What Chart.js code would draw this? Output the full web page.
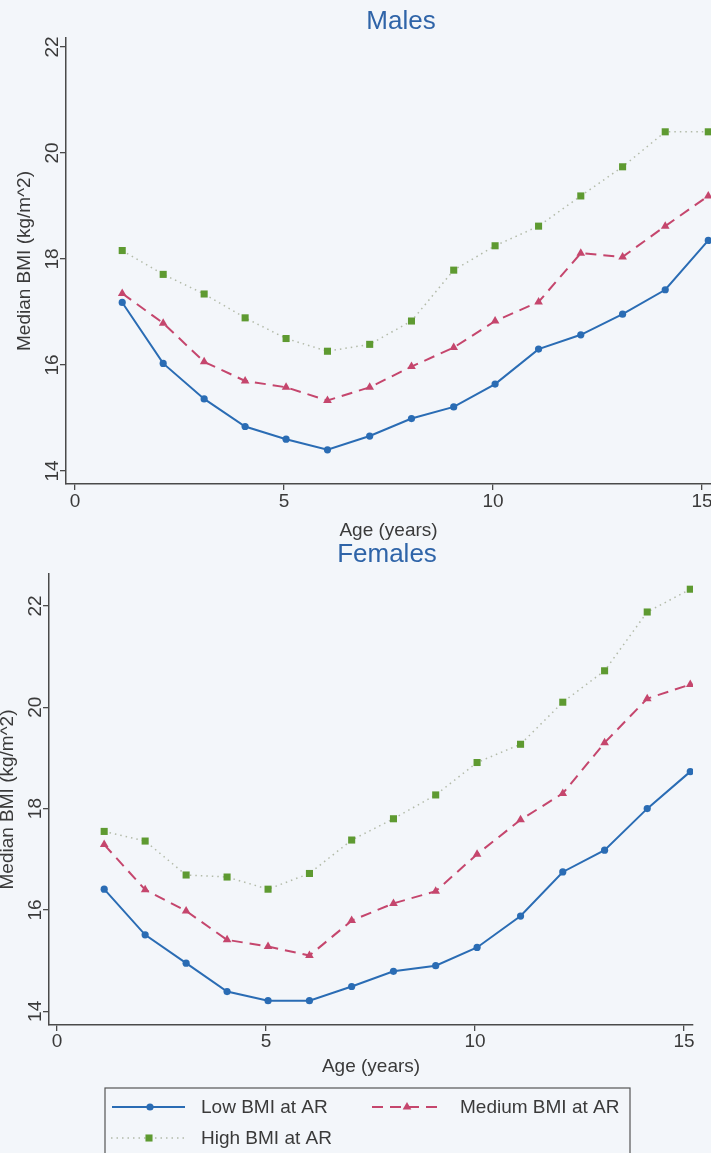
<!DOCTYPE html>
<html>
<head>
<meta charset="utf-8">
<title>Median BMI by age and BMI at adiposity rebound</title>
<script src="https://cdn.jsdelivr.net/npm/chart.js@4.4.1/dist/chart.umd.min.js"></script>
<style>
  html, body { margin: 0; padding: 0; }
  body { width: 711px; height: 1153px; overflow: hidden; background: #f3f6fa; position: relative; }
  canvas { position: absolute; left: 0; }
  #males { top: 0; }
  #females { top: 540px; }
</style>
</head>
<body>
<canvas id="males" width="802" height="540"></canvas>
<canvas id="females" width="774" height="613"></canvas>
<script>
// ─── Data ───
const ages = [1.13, 2.11, 3.09, 4.07, 5.05, 6.04, 7.05, 8.05, 9.06, 10.05, 11.09, 12.1, 13.1, 14.12, 15.15];

const maleLow    = [17.18, 16.03, 15.36, 14.84, 14.60, 14.40, 14.66, 14.99, 15.21, 15.64, 16.30, 16.57, 16.96, 17.42, 18.35];
const maleMedium = [17.35, 16.79, 16.06, 15.70, 15.58, 15.33, 15.58, 15.97, 16.33, 16.83, 17.19, 18.11, 18.04, 18.62, 19.19];
const maleHigh   = [18.16, 17.71, 17.34, 16.89, 16.50, 16.26, 16.39, 16.83, 17.79, 18.25, 18.62, 19.19, 19.74, 20.40, 20.40];

const femaleLow    = [16.41, 15.51, 14.95, 14.39, 14.21, 14.21, 14.49, 14.79, 14.90, 15.26, 15.88, 16.75, 17.18, 18.00, 18.73];
const femaleMedium = [17.29, 16.40, 15.98, 15.41, 15.28, 15.10, 15.79, 16.13, 16.37, 17.10, 17.78, 18.30, 19.30, 20.17, 20.45];
const femaleHigh   = [17.55, 17.36, 16.69, 16.65, 16.41, 16.72, 17.38, 17.80, 18.27, 18.91, 19.27, 20.10, 20.72, 21.88, 22.33];

const xTicks = [0, 5, 10, 15];
const yTicks = [14, 16, 18, 20, 22];
const seriesLabels = ['Low BMI at AR', 'Medium BMI at AR', 'High BMI at AR'];

// ─── Styles ───
const FONT = '"Liberation Sans", Arial, Helvetica, sans-serif';
const TEXT = '#3a3a3a';
const AXIS = '#4a4a4a';
const TITLE = '#2f64a8';

const styles = [
  { borderColor: '#2a6cb4', borderWidth: 2, pointStyle: 'circle', pointRadius: 3.6,
    pointBackgroundColor: '#2a6cb4' },
  { borderColor: '#c5466d', borderWidth: 2, borderDash: [11, 7], pointStyle: 'triangle', pointRadius: 5,
    pointBackgroundColor: '#c5466d' },
  { borderColor: '#b3bba9', borderWidth: 1.5, borderDash: [1.5, 4], pointStyle: 'rect', pointRadius: 5,
    pointBackgroundColor: '#5e9a31' },
];

function makeDatasets(seriesList) {
  return seriesList.map((values, i) => ({
    label: seriesLabels[i],
    data: ages.map((a, k) => ({ x: a, y: values[k] })),
    tension: 0,
    pointBorderWidth: 0,
    pointHoverRadius: 0,
    ...styles[i],
  }));
}

// draw a marker like chart.js does
function drawMarker(ctx, style, r, x, y) {
  ctx.beginPath();
  if (style === 'circle') {
    ctx.arc(x, y, r, 0, Math.PI * 2);
  } else if (style === 'triangle') {
    let rad = 0;
    ctx.moveTo(x + Math.sin(rad) * r, y - Math.cos(rad) * r);
    rad += Math.PI * 2 / 3;
    ctx.lineTo(x + Math.sin(rad) * r, y - Math.cos(rad) * r);
    rad += Math.PI * 2 / 3;
    ctx.lineTo(x + Math.sin(rad) * r, y - Math.cos(rad) * r);
    ctx.closePath();
  } else {
    const s = Math.SQRT1_2 * r;
    ctx.rect(x - s, y - s, 2 * s, 2 * s);
  }
  ctx.fill();
}

// y tick labels are turned 90°, which chart.js can't do on a vertical axis
const rotatedYLabels = {
  id: 'rotatedYLabels',
  afterDraw(chart) {
    const s = chart.scales.y;
    const ctx = chart.ctx;
    ctx.save();
    ctx.fillStyle = TEXT;
    ctx.font = '19px ' + FONT;
    ctx.textAlign = 'center';
    ctx.textBaseline = 'middle';
    s.ticks.forEach((t) => {
      const py = s.getPixelForValue(t.value);
      ctx.save();
      ctx.translate(s.right - 14, py);
      ctx.rotate(-Math.PI / 2);
      ctx.fillText(String(t.value), 0, 1);
      ctx.restore();
    });
    ctx.restore();
  },
};

// boxed legend under the lower panel
const boxLegend = {
  id: 'boxLegend',
  afterDraw(chart, args, opts) {
    if (!opts.entries) return;
    const ctx = chart.ctx;
    ctx.save();
    ctx.strokeStyle = '#555';
    ctx.lineWidth = 1.2;
    ctx.strokeRect(opts.box.x, opts.box.y, opts.box.w, opts.box.h);
    opts.entries.forEach((e) => {
      const ds = chart.data.datasets[e.index];
      ctx.save();
      ctx.strokeStyle = ds.borderColor;
      ctx.lineWidth = ds.borderWidth;
      ctx.setLineDash(ds.borderDash || []);
      ctx.beginPath();
      ctx.moveTo(e.x1, e.y);
      ctx.lineTo(e.x2, e.y);
      ctx.stroke();
      ctx.setLineDash([]);
      ctx.fillStyle = ds.pointBackgroundColor;
      drawMarker(ctx, ds.pointStyle, ds.pointRadius, e.mx, e.y);
      ctx.fillStyle = TEXT;
      ctx.font = '19px ' + FONT;
      ctx.textAlign = 'left';
      ctx.textBaseline = 'middle';
      ctx.fillText(ds.label, e.tx, e.y + 1);
      ctx.restore();
    });
    ctx.restore();
  },
};

function buildOptions(p) {
  return {
    responsive: false,
    animation: false,
    events: [],
    layout: { padding: { top: 0, left: 0, right: 0, bottom: p.bottomPad } },
    plugins: {
      legend: { display: false },
      tooltip: { enabled: false },
      title: {
        display: true,
        text: p.title,
        color: TITLE,
        font: { family: FONT, size: 26, weight: 'normal', lineHeight: 1 },
        padding: { top: p.titleTop, bottom: p.titleBottom },
      },
      boxLegend: p.legend || {},
    },
    scales: {
      x: {
        type: 'linear',
        min: p.xMin,
        max: p.xMax,
        afterBuildTicks: (s) => { s.ticks = xTicks.map((v) => ({ value: v })); },
        afterFit: (s) => { s.height = p.xHeight; },
        grid: { drawOnChartArea: false, drawTicks: true, tickLength: 6, color: AXIS, lineWidth: 1.3 },
        border: { display: true, color: AXIS, width: 1.5 },
        ticks: { color: TEXT, padding: p.xTickPad, maxRotation: 0,
          font: { family: FONT, size: 19, lineHeight: 1 } },
        title: { display: true, text: 'Age (years)', color: TEXT,
          font: { family: FONT, size: 19, lineHeight: 1 },
          padding: { top: 0, bottom: p.xTitlePad } },
      },
      y: {
        type: 'linear',
        min: p.yMin,
        max: p.yMax,
        afterBuildTicks: (s) => { s.ticks = yTicks.map((v) => ({ value: v })); },
        afterFit: (s) => { s.width = p.yWidth; },
        grid: { drawOnChartArea: false, drawTicks: true, tickLength: 6, color: AXIS, lineWidth: 1.3 },
        border: { display: true, color: AXIS, width: 1.5 },
        ticks: { display: false },
        title: { display: true, text: 'Median BMI (kg/m^2)', color: TEXT,
          font: { family: FONT, size: 19, lineHeight: 1 },
          padding: { top: p.yTitlePad, bottom: 0 } },
      },
      // empty box on the right so the title sits where it does in the figure
      spacer: {
        type: 'linear',
        axis: 'y',
        position: 'right',
        afterFit: (s) => { s.width = p.rightPad; },
        grid: { display: false },
        border: { display: false },
        ticks: { display: false },
      },
    },
  };
}

new Chart(document.getElementById('males'), {
  type: 'line',
  data: { datasets: makeDatasets([maleLow, maleMedium, maleHigh]) },
  options: buildOptions({
    title: 'Males', titleTop: 9, titleBottom: 3,
    xMin: -0.215, xMax: 15.215, yMin: 13.755, yMax: 22.17,
    xHeight: 56, yWidth: 66, rightPad: 91, bottomPad: 0,
    xTickPad: 2.5, xTitlePad: 0, yTitlePad: 15.5,
  }),
  plugins: [rotatedYLabels, boxLegend],
});

new Chart(document.getElementById('females'), {
  type: 'line',
  data: { datasets: makeDatasets([femaleLow, femaleMedium, femaleHigh]) },
  options: buildOptions({
    title: 'Females', titleTop: 2, titleBottom: 6,
    xMin: -0.19, xMax: 15.215, yMin: 13.73, yMax: 22.63,
    xHeight: 60, yWidth: 49, rightPad: 81, bottomPad: 68,
    xTickPad: 1.5, xTitlePad: 8.5, yTitlePad: -1.5,
    legend: {
      box: { x: 105, y: 548, w: 525, h: 72 },
      entries: [
        { index: 0, x1: 112, x2: 185, mx: 150, tx: 201, y: 567 },
        { index: 1, x1: 372, x2: 444, mx: 407, tx: 460, y: 567 },
        { index: 2, x1: 111, x2: 185, mx: 149, tx: 201, y: 598 },
      ],
    },
  }),
  plugins: [rotatedYLabels, boxLegend],
});
</script>
</body>
</html>
